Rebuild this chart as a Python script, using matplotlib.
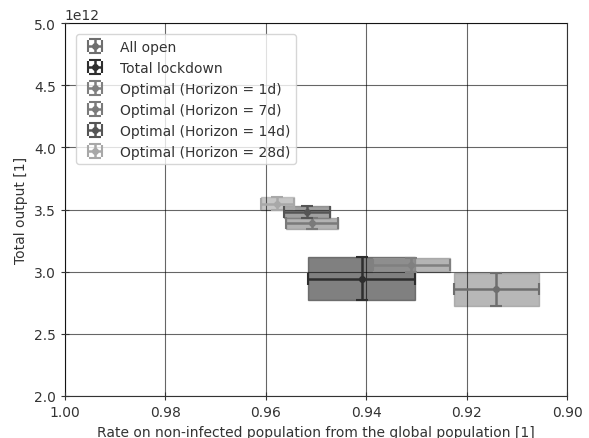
import matplotlib
matplotlib.use("Agg")
import matplotlib.pyplot as plt
from matplotlib.patches import Rectangle

labels = ["All open", "Total lockdown", "Optimal (Horizon = 1d)",
          "Optimal (Horizon = 7d)", "Optimal (Horizon = 14d)", "Optimal (Horizon = 28d)"]
rate_mean = [0.9141, 0.9409, 0.9310, 0.9508, 0.9518, 0.9577]
rate_err = [0.0085, 0.0106, 0.0077, 0.0051, 0.0045, 0.0033]
output_mean = [2.858e12, 2.945e12, 3.057e12, 3.388e12, 3.481e12, 3.547e12]
output_err = [0.133e12, 0.174e12, 0.056e12, 0.044e12, 0.048e12, 0.052e12]
colors = ["#6e6e6e", "#2e2e2e", "#808080", "#7a7a7a", "#555555", "#a8a8a8"]
box_colors = ["#999999", "#4a4a4a", "#959595", "#929292", "#787878", "#afafaf"]

plt.rcParams['font.family'] = ['DejaVu Sans']
fig = plt.figure(figsize=(5.89, 4.39), dpi=100)
ax = fig.add_axes([0.110, 0.0957, 0.853, 0.8493])

for lab, xm, xe, ym, ye, c, bc in zip(labels, rate_mean, rate_err, output_mean,
                                       output_err, colors, box_colors):
    rect = Rectangle((xm - xe, ym - ye), 2 * xe, 2 * ye, facecolor=bc, alpha=0.7,
                     edgecolor=bc, linewidth=1.0, zorder=2)
    ax.add_patch(rect)
    ax.errorbar(xm, ym, xerr=xe, yerr=ye, fmt='o', color=c, markersize=4,
                capsize=4, elinewidth=1.8, capthick=1.5, label=lab, zorder=3)

ax.set_xlim(1.00, 0.90)
ax.set_ylim(2.0e12, 5.0e12)
ax.set_xticks([1.00, 0.98, 0.96, 0.94, 0.92, 0.90])
ax.set_yticks([2.0e12, 2.5e12, 3.0e12, 3.5e12, 4.0e12, 4.5e12, 5.0e12])
ax.grid(True, color='k', alpha=0.6, linewidth=0.8, zorder=4)
ax.set_axisbelow(False)
ax.tick_params(direction='inout', length=6, colors='#333333', labelsize=10)
for s in ax.spines.values():
    s.set_color('#333333')
ax.yaxis.get_offset_text().set_color('#333333')
ax.set_xlabel("Rate on non-infected population from the global population [1]", color='#333333')
ax.set_ylabel("Total output [1]", color='#333333')
leg = ax.legend(loc='upper left', fontsize=10, framealpha=0.8, edgecolor='#cccccc',
                borderaxespad=0.8)
for t in leg.get_texts():
    t.set_color('#333333')

fig.savefig("out.png", dpi=100)
